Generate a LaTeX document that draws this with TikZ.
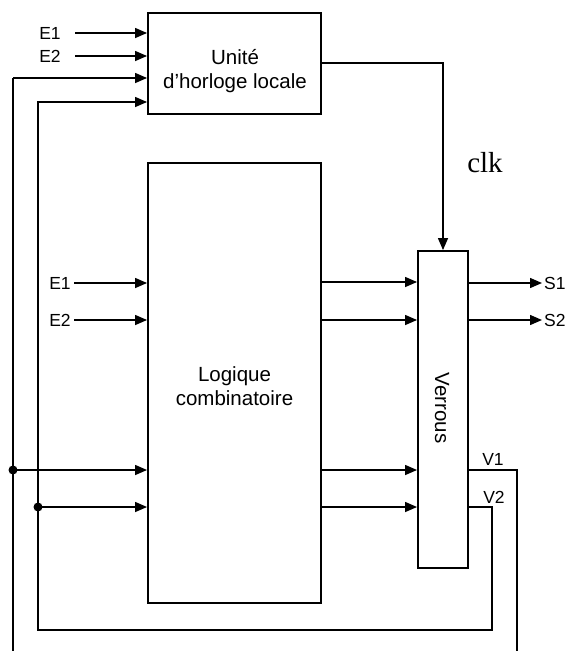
\documentclass[tikz,border=0pt]{standalone}
\usepackage{fontspec}
\setmainfont{Liberation Sans}
\newfontfamily\serifclk{Liberation Serif}
\usetikzlibrary{arrows.meta,calc}
\begin{document}
\begin{tikzpicture}[x=1pt,y=-1pt,
  box/.style={draw,line width=1.9pt,inner sep=0pt},
  wire/.style={line width=1.4pt},
  arr/.style={wire,-{Triangle[length=12pt,width=10pt]}},
  boxtext/.style={font=\fontsize{20.5}{24}\selectfont,align=center,inner sep=0pt},
  sig/.style={font=\fontsize{17.5}{20}\selectfont,inner sep=0pt},
  dot/.style={circle,fill,inner sep=0pt,minimum size=9pt}]
\useasboundingbox (0,0) rectangle (567,651);
% boxes
\node[box,minimum width=173pt,minimum height=101pt] (unite) at (234.5,63.5) {};
\node[boxtext] (unitetext) at (235,71) {Unité\\d’horloge locale};
\node[box,minimum width=173pt,minimum height=440pt] (logic) at (234.5,383) {};
\node[boxtext] (logictext) at (234.5,386) {Logique\\combinatoire};
\node[box,minimum width=50pt,minimum height=317pt] (verrou) at (443,409.5) {};
\node[boxtext,rotate=-90] (verroutext) at (442,408) {Verrous};
% inputs of the clock unit
\node[sig] (ue1) at (50,33) {E1};
\node[sig] (ue2) at (50,56) {E2};
\coordinate (ue1s) at (75,33);
\coordinate (ue2s) at (75,56);
\draw[arr] (ue1s) -- (unite.west |- ue1s);
\draw[arr] (ue2s) -- (unite.west |- ue2s);
% inputs of the logic
\node[sig] (le1) at (60,283) {E1};
\node[sig] (le2) at (60,320) {E2};
\coordinate (le1s) at (74,283);
\coordinate (le2s) at (74,320);
\draw[arr] (le1s) -- (logic.west |- le1s);
\draw[arr] (le2s) -- (logic.west |- le2s);
% outer feedback wire (V1)
\coordinate (L1top) at (13,78);
\coordinate (L1bot) at (13,651);
\coordinate (V1t) at (517,470);
\coordinate (V1b) at (517,651);
\draw[wire] (L1bot) -- (L1top);
\draw[arr] (L1top) -- (unite.west |- L1top);
\draw[wire] (verrou.east |- V1t) -- (V1t) -- (V1b);
\node[dot] (dot1) at (13,470) {};
\draw[arr] (dot1.center) -- (logic.west |- dot1);
% inner feedback wire (V2)
\coordinate (L2top) at (38,102);
\coordinate (L2bot) at (38,630);
\coordinate (V2c) at (492,630);
\coordinate (V2t) at (492,507);
\draw[arr] (verrou.east |- V2t) -- (V2t) -- (V2c) -- (L2bot) -- (L2top) -- (unite.west |- L2top);
\node[dot] (dot2) at (38,507) {};
\draw[arr] (dot2.center) -- (logic.west |- dot2);
\node[sig] (v1) at (493,459) {V1};
\node[sig] (v2) at (494,497) {V2};
% clock
\coordinate (clkc) at (443,63);
\draw[arr] (unite.east |- clkc) -- (clkc) -- (verrou.north);
\node[font=\serifclk\fontsize{29}{32}\selectfont,anchor=base,inner sep=0pt] (clk) at (485,172) {clk};
% logic to latches
\foreach \yy/\nm in {282/a,320/b,470/c,507/d}{
  \coordinate (lv\nm) at (330,\yy);
  \draw[arr] (logic.east |- lv\nm) -- (verrou.west |- lv\nm);
}
% outputs
\coordinate (s1) at (542,283);
\coordinate (s2) at (542,320);
\draw[arr] (verrou.east |- s1) -- (s1);
\draw[arr] (verrou.east |- s2) -- (s2);
\node[sig,anchor=west] (s1t) at (544,283) {S1};
\node[sig,anchor=west] (s2t) at (544,320) {S2};
\end{tikzpicture}
\end{document}
